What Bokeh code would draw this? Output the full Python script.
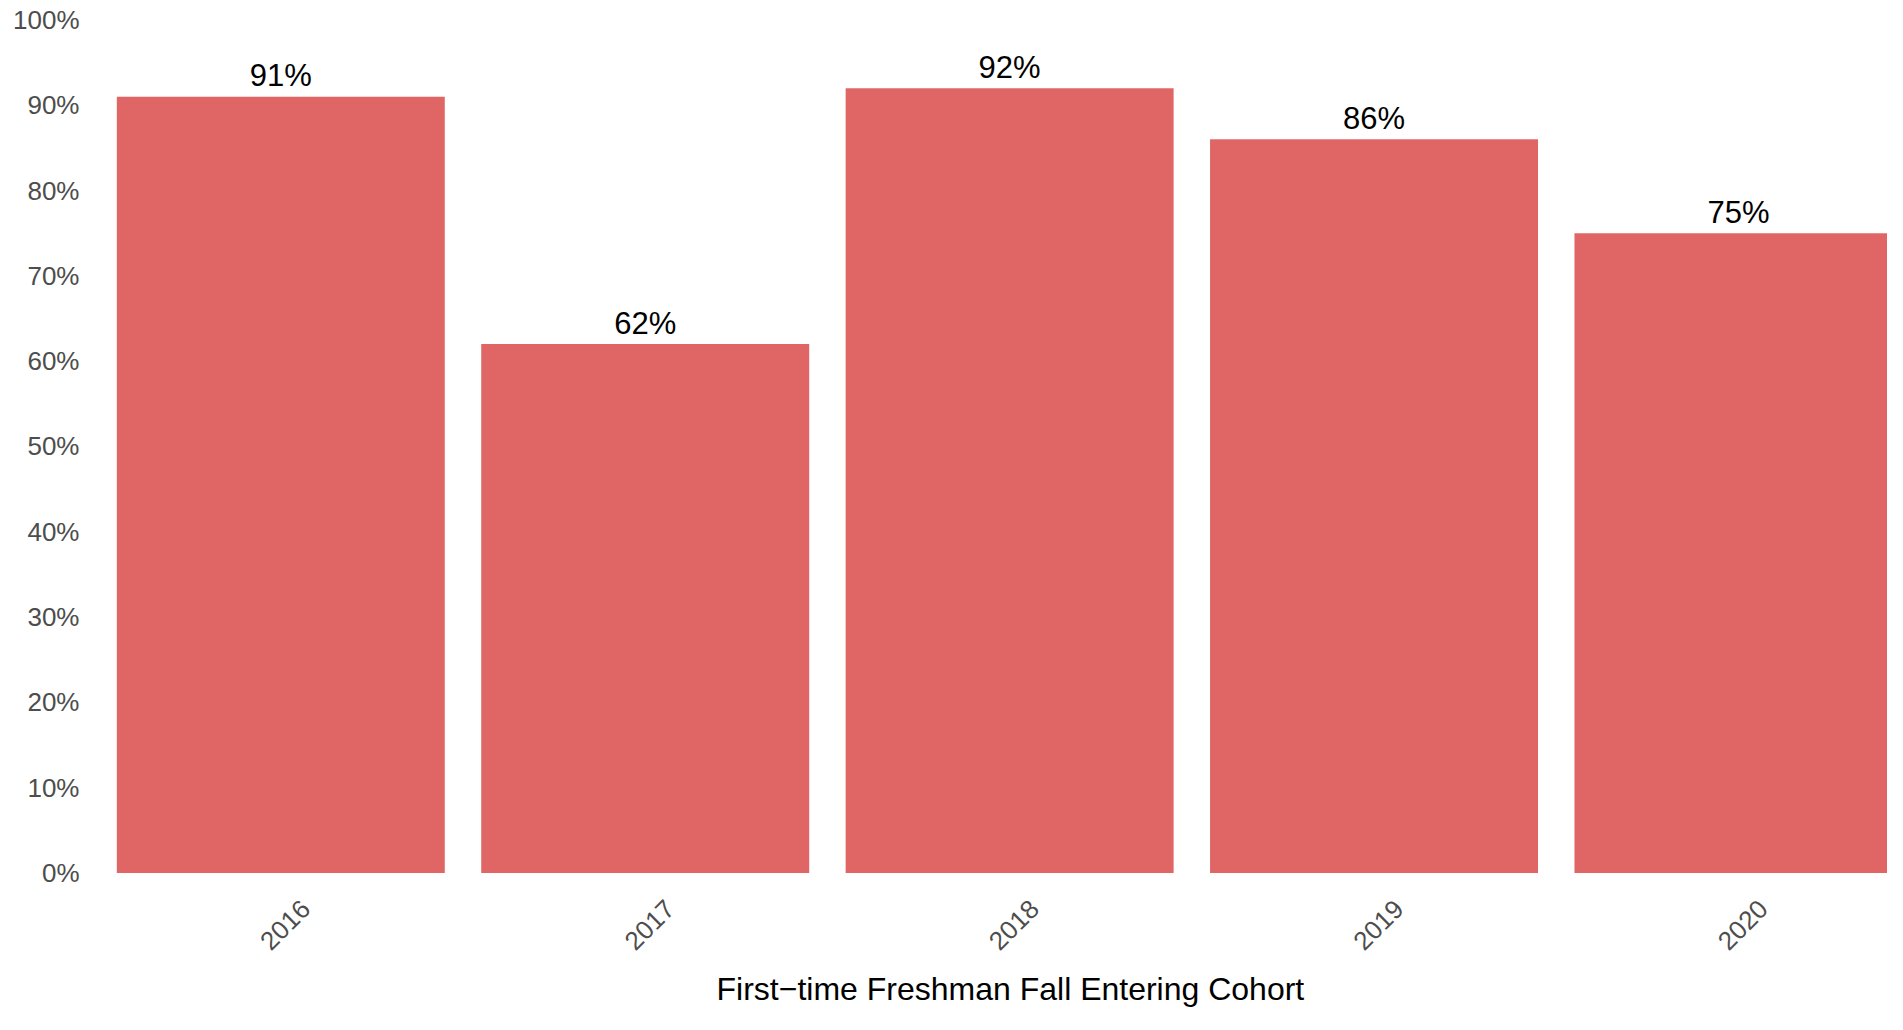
from bokeh.plotting import figure
from bokeh.models import ColumnDataSource, FixedTicker, Range1d, LinearAxis, Title
from bokeh.core.properties import value
from bokeh.embed import file_html
from bokeh.resources import INLINE

# ---- data ----
years = ["2016", "2017", "2018", "2019", "2020"]
rates = [91, 62, 92, 86, 75]
y_ticks = [0, 10, 20, 30, 40, 50, 60, 70, 80, 90, 100]
y_tick_labels = ["0%", "10%", "20%", "30%", "40%", "50%", "60%", "70%", "80%", "90%", "100%"]
x_title = "First\u2212time Freshman Fall Entering Cohort"

FONT = "Liberation Sans"
BAR = "#E06666"

xs = list(range(1, len(years) + 1))
src = ColumnDataSource(dict(x=xs, top=rates, label=[f"{r}%" for r in rates]))

X0, X1 = 0.4723, 5.409
SHIFT = 0.068  # rotated tick labels centred under the bars

p = figure(width=1887, height=1014, output_backend="svg", toolbar_location=None,
           x_range=Range1d(X0, X1), y_range=Range1d(-2.04, 102.27),
           x_axis_location=None,
           min_border_left=88, min_border_right=0, min_border_top=0, min_border_bottom=124)
p.outline_line_color = None
p.background_fill_color = "white"
p.border_fill_color = "white"
p.xgrid.visible = False
p.ygrid.visible = False

p.vbar(x="x", top="top", bottom=0, width=0.9, source=src, fill_color=BAR, line_color=None)
p.text(x="x", y="top", text="label", source=src, text_align="center",
       text_baseline="alphabetic", y_offset=-21, text_font=value(FONT),
       text_font_size="31px", text_color="black")

# y axis
p.yaxis.ticker = FixedTicker(ticks=y_ticks)
p.yaxis.major_label_overrides = {t: l for t, l in zip(y_ticks, y_tick_labels)}
p.yaxis.axis_line_color = None
p.yaxis.major_tick_line_color = None
p.yaxis.minor_tick_line_color = None
p.yaxis.major_label_standoff = 3
p.yaxis.major_label_text_font = FONT
p.yaxis.major_label_text_font_size = "26px"
p.yaxis.major_label_text_color = "#4D4D4D"

# x axis
p.extra_x_ranges = {"lab": Range1d(X0 - SHIFT, X1 - SHIFT)}
xax = LinearAxis(x_range_name="lab", ticker=FixedTicker(ticks=xs))
xax.major_label_overrides = {x: y for x, y in zip(xs, years)}
xax.major_label_orientation = 0.7854
xax.axis_line_color = None
xax.major_tick_line_color = None
xax.minor_tick_line_color = None
xax.major_label_standoff = 8
xax.major_label_text_font = FONT
xax.major_label_text_font_size = "26px"
xax.major_label_text_color = "#4D4D4D"
p.add_layout(xax, "below")

title = Title(text=x_title, align="left", offset=628, standoff=14,
              text_font=FONT, text_font_size="32px", text_font_style="normal",
              text_color="black")
p.add_layout(title, "below")

open("out.html", "w").write(file_html(p, INLINE))
